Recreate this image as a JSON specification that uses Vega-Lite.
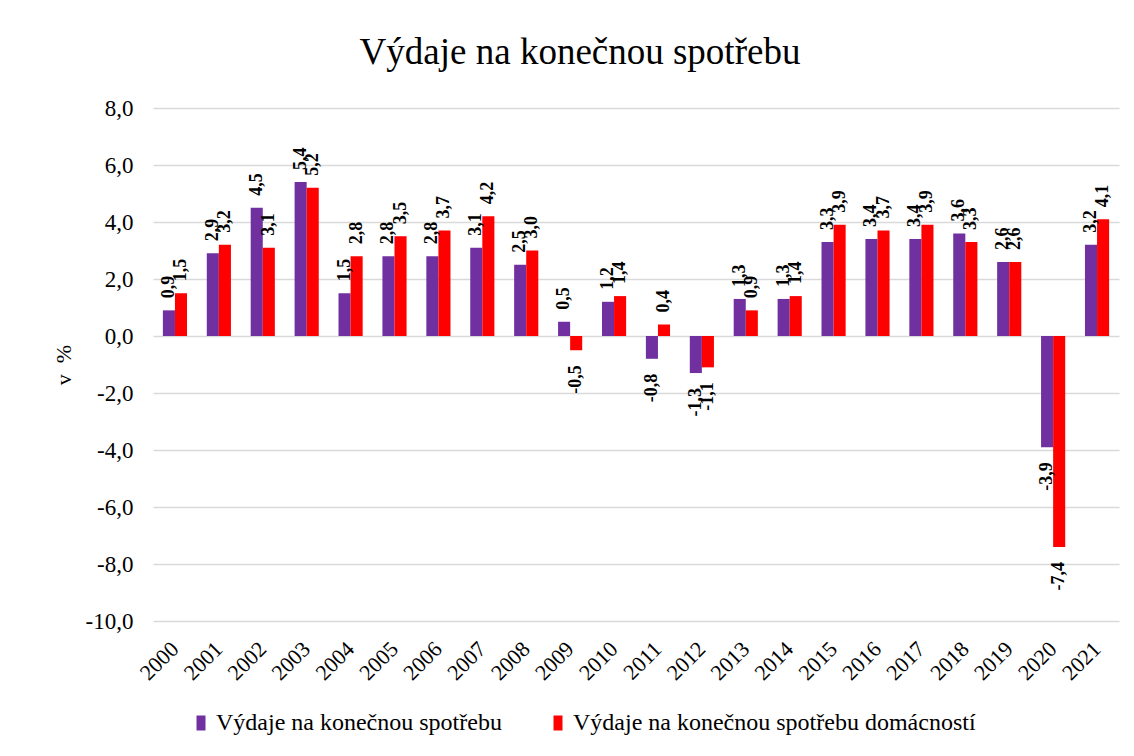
{
  "$schema": "https://vega.github.io/schema/vega-lite/v6.json",
  "width": 966,
  "height": 513,
  "autosize": {"type": "none"},
  "padding": {"left": 153, "top": 108, "right": 15, "bottom": 135},
  "background": "white",
  "title": {
    "text": "Výdaje na konečnou spotřebu",
    "font": "Liberation Serif",
    "fontSize": 37,
    "fontWeight": "normal",
    "color": "black",
    "anchor": "middle",
    "frame": "group",
    "dx": -56,
    "offset": 25
  },
  "config": {
    "font": "Liberation Serif",
    "locale": {"number": {"decimal": ",", "thousands": " ", "grouping": [3], "currency": ["", " Kč"], "minus": "-"}},
    "view": {"stroke": null},
    "axis": {"labelFont": "Liberation Serif", "titleFont": "Liberation Serif"},
    "legend": {"labelFont": "Liberation Serif"}
  },
  "data": {
    "values": [
      {"year": "2000", "series": "Výdaje na konečnou spotřebu", "value": 0.9},
      {"year": "2000", "series": "Výdaje na konečnou spotřebu domácností", "value": 1.5},
      {"year": "2001", "series": "Výdaje na konečnou spotřebu", "value": 2.9},
      {"year": "2001", "series": "Výdaje na konečnou spotřebu domácností", "value": 3.2},
      {"year": "2002", "series": "Výdaje na konečnou spotřebu", "value": 4.5},
      {"year": "2002", "series": "Výdaje na konečnou spotřebu domácností", "value": 3.1},
      {"year": "2003", "series": "Výdaje na konečnou spotřebu", "value": 5.4},
      {"year": "2003", "series": "Výdaje na konečnou spotřebu domácností", "value": 5.2},
      {"year": "2004", "series": "Výdaje na konečnou spotřebu", "value": 1.5},
      {"year": "2004", "series": "Výdaje na konečnou spotřebu domácností", "value": 2.8},
      {"year": "2005", "series": "Výdaje na konečnou spotřebu", "value": 2.8},
      {"year": "2005", "series": "Výdaje na konečnou spotřebu domácností", "value": 3.5},
      {"year": "2006", "series": "Výdaje na konečnou spotřebu", "value": 2.8},
      {"year": "2006", "series": "Výdaje na konečnou spotřebu domácností", "value": 3.7},
      {"year": "2007", "series": "Výdaje na konečnou spotřebu", "value": 3.1},
      {"year": "2007", "series": "Výdaje na konečnou spotřebu domácností", "value": 4.2},
      {"year": "2008", "series": "Výdaje na konečnou spotřebu", "value": 2.5},
      {"year": "2008", "series": "Výdaje na konečnou spotřebu domácností", "value": 3.0},
      {"year": "2009", "series": "Výdaje na konečnou spotřebu", "value": 0.5},
      {"year": "2009", "series": "Výdaje na konečnou spotřebu domácností", "value": -0.5},
      {"year": "2010", "series": "Výdaje na konečnou spotřebu", "value": 1.2},
      {"year": "2010", "series": "Výdaje na konečnou spotřebu domácností", "value": 1.4},
      {"year": "2011", "series": "Výdaje na konečnou spotřebu", "value": -0.8},
      {"year": "2011", "series": "Výdaje na konečnou spotřebu domácností", "value": 0.4},
      {"year": "2012", "series": "Výdaje na konečnou spotřebu", "value": -1.3},
      {"year": "2012", "series": "Výdaje na konečnou spotřebu domácností", "value": -1.1},
      {"year": "2013", "series": "Výdaje na konečnou spotřebu", "value": 1.3},
      {"year": "2013", "series": "Výdaje na konečnou spotřebu domácností", "value": 0.9},
      {"year": "2014", "series": "Výdaje na konečnou spotřebu", "value": 1.3},
      {"year": "2014", "series": "Výdaje na konečnou spotřebu domácností", "value": 1.4},
      {"year": "2015", "series": "Výdaje na konečnou spotřebu", "value": 3.3},
      {"year": "2015", "series": "Výdaje na konečnou spotřebu domácností", "value": 3.9},
      {"year": "2016", "series": "Výdaje na konečnou spotřebu", "value": 3.4},
      {"year": "2016", "series": "Výdaje na konečnou spotřebu domácností", "value": 3.7},
      {"year": "2017", "series": "Výdaje na konečnou spotřebu", "value": 3.4},
      {"year": "2017", "series": "Výdaje na konečnou spotřebu domácností", "value": 3.9},
      {"year": "2018", "series": "Výdaje na konečnou spotřebu", "value": 3.6},
      {"year": "2018", "series": "Výdaje na konečnou spotřebu domácností", "value": 3.3},
      {"year": "2019", "series": "Výdaje na konečnou spotřebu", "value": 2.6},
      {"year": "2019", "series": "Výdaje na konečnou spotřebu domácností", "value": 2.6},
      {"year": "2020", "series": "Výdaje na konečnou spotřebu", "value": -3.9},
      {"year": "2020", "series": "Výdaje na konečnou spotřebu domácností", "value": -7.4},
      {"year": "2021", "series": "Výdaje na konečnou spotřebu", "value": 3.2},
      {"year": "2021", "series": "Výdaje na konečnou spotřebu domácností", "value": 4.1}
    ]
  },
  "encoding": {
    "x": {
      "field": "year",
      "type": "nominal",
      "scale": {"paddingInner": 0.45, "paddingOuter": 0.225},
      "axis": {
        "title": null,
        "labelAngle": -45,
        "labelAlign": "right",
        "labelBaseline": "middle",
        "labelPadding": 24,
        "labelFont": "Liberation Serif",
        "labelFontSize": 22,
        "labelColor": "black",
        "domain": false,
        "ticks": false,
        "grid": false
      }
    },
    "xOffset": {
      "field": "series",
      "type": "nominal",
      "sort": ["Výdaje na konečnou spotřebu", "Výdaje na konečnou spotřebu domácností"],
      "scale": {"paddingInner": 0, "paddingOuter": 0}
    },
    "y": {
      "field": "value",
      "type": "quantitative",
      "scale": {"domain": [-10, 8], "nice": false, "zero": false},
      "axis": {
        "values": [-10, -8, -6, -4, -2, 0, 2, 4, 6, 8],
        "format": ".1f",
        "title": "v\u00a0\u00a0%",
        "titleFont": "Liberation Serif",
        "titleFontSize": 22,
        "titleFontWeight": "normal",
        "titleColor": "black",
        "titlePadding": 10,
        "labelFont": "Liberation Serif",
        "labelFontSize": 23,
        "labelColor": "black",
        "labelPadding": 20,
        "domain": false,
        "ticks": false,
        "grid": true,
        "gridColor": "#d9d9d9",
        "gridWidth": 1.5
      }
    }
  },
  "layer": [
    {
      "mark": {"type": "bar"},
      "encoding": {
        "color": {
          "field": "series",
          "type": "nominal",
          "scale": {
            "domain": ["Výdaje na konečnou spotřebu", "Výdaje na konečnou spotřebu domácností"],
            "range": ["#7030A0", "#FF0000"]
          },
          "legend": {
            "title": null,
            "orient": "none",
            "direction": "horizontal",
            "legendX": 36,
            "legendY": 603,
            "labelFont": "Liberation Serif",
            "labelFontSize": 24,
            "labelColor": "black",
            "labelLimit": 600,
            "labelOffset": 3,
            "symbolType": "M-0.6,-1H0.6V1H-0.6Z",
            "symbolSize": 225,
            "symbolStrokeWidth": 0,
            "columnPadding": 44
          }
        }
      }
    },
    {
      "transform": [{"filter": "datum.value >= 0"}],
      "mark": {
        "type": "text",
        "angle": -90,
        "align": "left",
        "baseline": "middle",
        "dx": 12,
        "font": "Liberation Serif",
        "fontSize": 18,
        "fontWeight": "bold",
        "color": "black"
      },
      "encoding": {"text": {"field": "value", "type": "quantitative", "format": ".1f"}}
    },
    {
      "transform": [{"filter": "datum.value < 0"}],
      "mark": {
        "type": "text",
        "angle": -90,
        "align": "right",
        "baseline": "middle",
        "dx": -15,
        "font": "Liberation Serif",
        "fontSize": 18,
        "fontWeight": "bold",
        "color": "black"
      },
      "encoding": {"text": {"field": "value", "type": "quantitative", "format": ".1f"}}
    }
  ]
}
